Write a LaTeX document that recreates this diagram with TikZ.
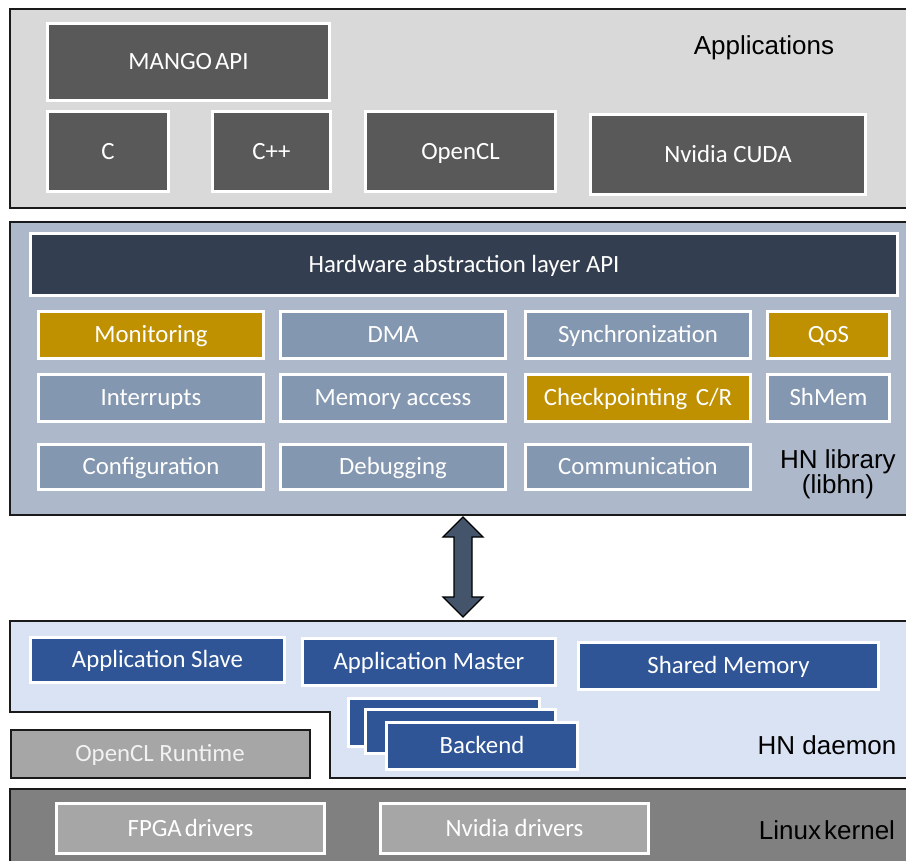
\documentclass[tikz,border=0pt]{standalone}
\usepackage{fontspec}
\setmainfont{Carlito}
\newfontfamily\labelfont{Liberation Sans}
\usetikzlibrary{calc}

\definecolor{appbg}{HTML}{D9D9D9}
\definecolor{appbox}{HTML}{595959}
\definecolor{libbg}{HTML}{ADB9CA}
\definecolor{halbox}{HTML}{333F50}
\definecolor{libbox}{HTML}{8497B0}
\definecolor{goldbox}{HTML}{BF9000}
\definecolor{dmbg}{HTML}{DAE3F3}
\definecolor{dmbox}{HTML}{2F5597}
\definecolor{lightgray}{HTML}{A6A6A6}
\definecolor{kernbg}{HTML}{808080}
\definecolor{arrowfill}{HTML}{44546A}
\definecolor{edge}{HTML}{1A1A1A}

\tikzset{
  panel/.style={draw=edge, line width=1.6pt},
  boxtext/.style={text=white, inner sep=0pt, text height=15.7pt, text depth=0pt,
    font=\fontsize{24.8}{28}\selectfont},
  cell/.style={boxtext, draw=white, line width=3pt},
  layername/.style={inner sep=0pt, text=black, anchor=base,
    font=\labelfont\fontsize{26}{30}\selectfont},
}

% \cellbox{name}{x1}{y1}{x2}{y2}{fill}{text}: white-framed box by its outer edges
\newcommand\cellbox[7]{%
  \node[cell, fill=#6, minimum width={(#4-(#2)-3)*1pt},
        minimum height={(#5-(#3)-3)*1pt}]
    (#1) at ({(#2+#4)/2},{(#3+#5)/2}) {#7};}

\begin{document}
\begin{tikzpicture}[x=1pt, y=-1pt]
\useasboundingbox[fill=white] (0,0) rectangle (906,861);

% ---------- Applications ----------
\draw[panel, fill=appbg] (10,9) rectangle (912,208);
\cellbox{mango}{46}{22}{331}{102}{appbox}{MANGO\hspace{0.12em}API}
\cellbox{c}{46}{110}{170}{193}{appbox}{C}
\cellbox{cpp}{211}{110}{332}{193}{appbox}{C++}
\cellbox{opencl}{364}{110}{557}{193}{appbox}{OpenCL}
\cellbox{cuda}{589}{113}{867}{196}{appbox}{Nvidia CUDA}
\node[layername] (apps) at (764,55) {Applications};

% ---------- HN library ----------
\draw[panel, fill=libbg] (10,222) rectangle (912,515);
\cellbox{hal}{29}{232}{899}{297}{halbox}{Hardware abstraction layer API}
\cellbox{monitor}{37}{310}{265}{360}{goldbox}{Monitoring}
\cellbox{dma}{279}{310}{507}{360}{libbox}{DMA}
\cellbox{sync}{524}{310}{752}{360}{libbox}{Synchronization}
\cellbox{qos}{766}{310}{891}{360}{goldbox}{QoS}
\cellbox{irq}{37}{373}{265}{423}{libbox}{Interrupts}
\cellbox{mem}{279}{373}{507}{423}{libbox}{Memory access}
\cellbox{ckpt}{524}{373}{752}{423}{goldbox}{Checkpointing\hspace{0.35em}C/R}
\cellbox{shmem}{766}{373}{891}{423}{libbox}{ShMem}
\cellbox{config}{37}{443}{265}{491}{libbox}{Configuration}
\cellbox{debug}{279}{443}{507}{491}{libbox}{Debugging}
\cellbox{comm}{524}{443}{752}{491}{libbox}{Communication}
\node[layername] (libhn) at (838,468) {HN library};
\node[layername] (libhnsub) at (838,493) {(libhn)};

% ---------- link between library and daemon ----------
\coordinate (arrtop) at (463,517);
\coordinate (arrbot) at (463,617);
\draw[line width=1.4pt, fill=arrowfill, line join=miter]
  (arrtop) -- ++(20,20) -- ++(-11,0) -- ($(arrbot)+(9,-20)$) -- ++(11,0)
  -- (arrbot) -- ++(-20,-20) -- ++(11,0) -- ($(arrtop)+(-9,20)$) -- ++(-11,0)
  -- cycle;

% ---------- HN daemon ----------
\draw[panel, fill=dmbg] (10,621) -- (912,621) -- (912,778) -- (330,778)
  -- (330,712) -- (10,712) -- cycle;
\cellbox{slave}{29}{636}{286}{684}{dmbox}{Application Slave}
\cellbox{master}{301}{637}{557}{687}{dmbox}{Application Master}
\cellbox{shared}{577}{641}{880}{691}{dmbox}{Shared Memory}
\cellbox{backc}{347}{697}{541}{748}{dmbox}{}
\cellbox{backb}{364}{708}{557}{755}{dmbox}{}
\cellbox{backend}{385}{721}{579}{771}{dmbox}{Backend}
\node[layername] (daemon) at (827,754) {HN daemon};

% ---------- OpenCL runtime ----------
\draw[panel, fill=lightgray] (11,730) rectangle (310,778);
\node[boxtext, text=white!95!black] (oclrt) at (160,754) {OpenCL Runtime};

% ---------- Linux kernel ----------
\draw[panel, fill=kernbg] (10,789) rectangle (912,866);
\cellbox{fpga}{55}{802}{326}{855}{lightgray}{FPGA\hspace{0.12em}drivers}
\cellbox{nvdrv}{379}{802}{650}{855}{lightgray}{Nvidia drivers}
\node[layername] (kernel) at (827,839) {Linux\hspace{0.12em}kernel};
\end{tikzpicture}
\end{document}
